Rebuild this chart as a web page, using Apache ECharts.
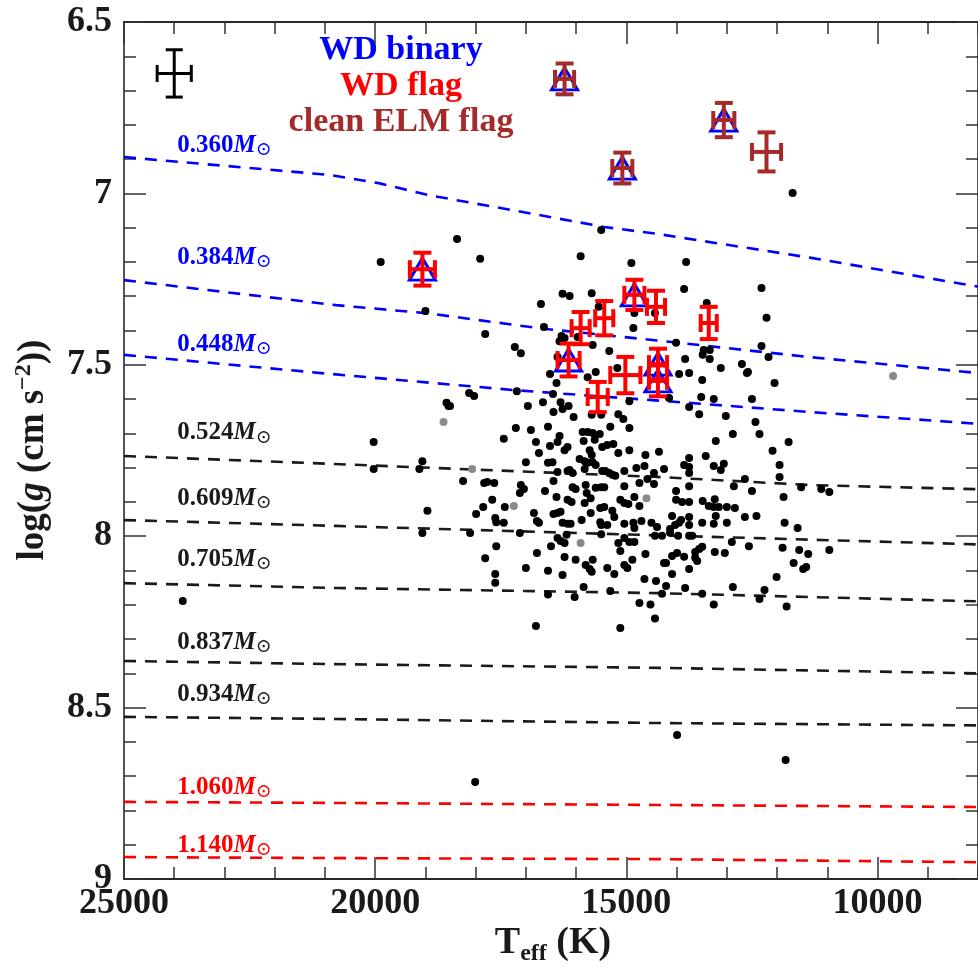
<!DOCTYPE html>
<html>
<head>
<meta charset="utf-8">
<script src="https://cdn.jsdelivr.net/npm/echarts@6/dist/echarts.min.js"></script>
<style>
  html, body { margin: 0; padding: 0; background: #fff; }
  #chart { width: 978px; height: 967px; }
</style>
</head>
<body>
<div id="chart"></div>
<script>
// ---- Data: Teff (K), log g (cgs) ----

// cooling tracks of constant mass
const trackMasses = ['0.360', '0.384', '0.448', '0.524', '0.609', '0.705', '0.837', '0.934', '1.060', '1.140'];
const track0360 = [[25000, 6.894], [20920, 6.946], [19930, 6.970], [18940, 7.005], [16960, 7.057], [15440, 7.098], [14390, 7.118], [11320, 7.188], [8000, 7.272]];
const track0384 = [[25000, 7.253], [20780, 7.326], [18940, 7.350], [16700, 7.394], [14390, 7.429], [11320, 7.478], [8000, 7.524]];
const track0448 = [[25000, 7.471], [20860, 7.527], [17220, 7.574], [14490, 7.603], [11320, 7.638], [8000, 7.672]];
const track0524 = [[25000, 7.766], [20860, 7.789], [14390, 7.827], [11320, 7.851], [8000, 7.863]];
const track0609 = [[25000, 7.953], [20780, 7.970], [14490, 7.997], [8000, 8.024]];
const track0705 = [[25000, 8.137], [20780, 8.151], [14390, 8.166], [8000, 8.190]];
const track0837 = [[25000, 8.364], [20920, 8.373], [14390, 8.384], [8000, 8.400]];
const track0934 = [[25000, 8.527], [20920, 8.533], [14390, 8.545], [8000, 8.552]];
const track1060 = [[25000, 8.775], [20920, 8.778], [14390, 8.784], [8000, 8.790]];
const track1140 = [[25000, 8.936], [20920, 8.939], [14390, 8.942], [8000, 8.951]];
// where each track's mass annotation sits (Teff, log g)
const massLabelTeff = 23950;
const massLabelLogg = [6.859, 7.188, 7.442, 7.699, 7.889, 8.069, 8.309, 8.463, 8.732, 8.901];

// spectroscopic sample
const starsBlack = [
  [23830, 8.189], [19890, 7.200], [18370, 7.133], [17910, 7.191], [15910, 7.183], [14900, 7.203], [15500, 7.107],
  [13810, 7.200], [19000, 7.343], [11690, 6.999], [13850, 7.279], [12310, 7.276], [13400, 7.320], [12210, 7.363],
  [16270, 7.293], [16130, 7.299], [15690, 7.291], [16700, 7.323], [15550, 7.331], [14840, 7.349], [14430, 7.349],
  [14860, 7.393], [17810, 7.410], [16640, 7.390], [16290, 7.416], [16230, 7.422], [16330, 7.431], [15970, 7.419],
  [15670, 7.442], [15340, 7.460], [17220, 7.448], [17100, 7.466], [14010, 7.436], [13460, 7.457], [13340, 7.457],
  [13480, 7.471], [12310, 7.445], [12170, 7.477], [13830, 7.483], [13340, 7.483], [16370, 7.477], [13120, 7.509],
  [12700, 7.498], [12580, 7.521], [15180, 7.509],
  [20030, 7.725], [20030, 7.804], [19060, 7.781], [19120, 7.804], [18960, 7.926], [19060, 7.991], [18540, 7.620],
  [18580, 7.611],
  [16560, 8.170], [14520, 8.199], [14430, 8.240], [13260, 8.199], [11810, 8.205], [13990, 8.580], [11830, 8.653],
  [18010, 8.717], [10960, 7.871], [10960, 8.040],
  [13950, 7.527], [13750, 7.524], [13490, 7.544], [12600, 7.524], [12050, 7.553], [14150, 7.597], [13510, 7.594],
  [13260, 7.600], [12500, 7.600], [13750, 7.623], [13550, 7.644], [13020, 7.649], [12430, 7.667], [14940, 7.684],
  [12880, 7.702], [12350, 7.702], [13220, 7.722], [11770, 7.725], [14940, 7.749], [14620, 7.763], [14350, 7.754],
  [13750, 7.772], [13420, 7.766], [12090, 7.751], [14800, 7.801], [14640, 7.795], [14250, 7.804], [13850, 7.792],
  [13750, 7.798], [13260, 7.795], [13060, 7.789], [13120, 7.807], [11950, 7.792], [14450, 7.816], [14580, 7.833],
  [13750, 7.816], [12640, 7.833], [11950, 7.827], [14740, 7.845], [14450, 7.848], [13750, 7.854], [12860, 7.854],
  [12500, 7.868], [11520, 7.857], [11120, 7.862], [14010, 7.868], [14840, 7.886], [14010, 7.894], [13890, 7.900],
  [13750, 7.900], [13480, 7.897], [13240, 7.892], [13360, 7.912], [13260, 7.915], [13160, 7.915], [13000, 7.915],
  [12840, 7.918], [11870, 7.886], [14960, 7.906], [14740, 7.912], [14090, 7.941], [13750, 7.944], [13220, 7.941],
  [12640, 7.944], [12410, 7.941], [14700, 7.956], [14500, 7.961], [14390, 7.973], [14030, 7.967], [13950, 7.961],
  [13910, 7.953], [14130, 7.979], [13750, 7.967], [13490, 7.961], [13260, 7.964], [13000, 7.961], [11850, 7.961],
  [11590, 7.976], [14860, 7.961], [14840, 7.976], [14840, 8.017], [14940, 8.017], [14430, 7.999], [14290, 7.999],
  [14130, 7.990], [13970, 7.999], [13750, 7.999], [13690, 7.999], [12900, 8.017], [12560, 8.029], [11890, 8.034],
  [11560, 8.040], [11380, 8.052], [14620, 8.052], [14880, 8.069], [14090, 8.058], [13990, 8.049], [13630, 8.046],
  [13550, 8.037], [13490, 8.031], [13240, 8.046], [13040, 8.049], [14250, 8.078], [14210, 8.078], [13850, 8.060],
  [13630, 8.063], [13590, 8.072], [11670, 8.078], [11480, 8.096], [11420, 8.090], [13750, 8.096], [14090, 8.110],
  [14640, 8.125], [14410, 8.131], [14210, 8.145], [12010, 8.119], [13830, 8.151], [12880, 8.148], [12250, 8.157],
  [14290, 8.168], [13490, 8.168], [12350, 8.183], [14740, 8.195],
  [16520, 7.527], [16390, 7.553], [15770, 7.536], [15610, 7.521], [18130, 7.582], [18030, 7.591], [18510, 7.620],
  [17180, 7.577], [16960, 7.620], [16660, 7.609], [16460, 7.585], [16310, 7.609], [16150, 7.620], [16450, 7.638],
  [16270, 7.629], [16050, 7.652], [15690, 7.646], [15500, 7.646], [15160, 7.644], [15060, 7.658], [14940, 7.606],
  [17200, 7.684], [16900, 7.690], [16560, 7.681], [17440, 7.716], [16800, 7.725], [16330, 7.708], [16370, 7.725],
  [16520, 7.737], [16230, 7.749], [16170, 7.740], [16740, 7.757], [15870, 7.696], [15770, 7.696], [15670, 7.699],
  [15530, 7.702], [15850, 7.722], [15630, 7.719], [15480, 7.740], [15380, 7.734], [15320, 7.681], [15260, 7.731],
  [15160, 7.757], [15730, 7.749], [15690, 7.763], [17000, 7.784], [16560, 7.786], [16470, 7.784], [15930, 7.775],
  [15830, 7.781], [15770, 7.786], [15670, 7.784], [15610, 7.792], [16130, 7.807], [16170, 7.810], [16070, 7.816],
  [16370, 7.813], [15830, 7.804], [15480, 7.810], [15420, 7.810], [15340, 7.816], [15280, 7.821], [15220, 7.824],
  [15040, 7.810], [16450, 7.839], [18250, 7.839], [17830, 7.845], [17770, 7.842], [17630, 7.845], [17100, 7.851],
  [17040, 7.862], [16070, 7.857], [16010, 7.862], [15810, 7.851], [15610, 7.859], [15500, 7.857], [15440, 7.857],
  [15040, 7.854], [17120, 7.874], [16620, 7.868], [16390, 7.886], [15790, 7.874], [15710, 7.889], [17670, 7.894],
  [16170, 7.894], [16090, 7.900], [15830, 7.903], [15120, 7.894], [15040, 7.903], [17850, 7.915], [17420, 7.915],
  [17990, 7.935], [16840, 7.932], [16450, 7.935], [16370, 7.932], [16310, 7.929], [15710, 7.932], [15520, 7.918],
  [15440, 7.915], [15280, 7.926], [17610, 7.947], [17590, 7.959], [17440, 7.961], [16780, 7.956], [16740, 7.961],
  [16270, 7.961], [16170, 7.964], [16110, 7.964], [15890, 7.953], [15520, 7.959], [15500, 7.967], [15380, 7.967],
  [15240, 7.944], [15040, 7.964], [18110, 7.991], [17120, 7.991], [16190, 7.996], [15500, 7.994], [15040, 8.005],
  [16370, 8.005], [16310, 8.014], [16230, 8.020], [17590, 8.029], [16500, 8.029], [15160, 8.020], [16780, 8.049],
  [15120, 8.043], [17810, 8.064], [16230, 8.061], [16010, 8.069], [15670, 8.069], [15810, 8.084], [15730, 8.096],
  [15690, 8.104], [15040, 8.084], [14980, 8.093], [17000, 8.093], [16560, 8.101], [16270, 8.113], [15380, 8.093],
  [15240, 8.110], [17610, 8.110], [17610, 8.136], [15850, 8.148], [15320, 8.160], [16030, 8.177], [16800, 8.262],
  [15120, 8.268]
];
const starsGray = [[18640, 7.667], [18070, 7.804], [17240, 7.912], [15910, 8.020], [14600, 7.889], [9690, 7.533]];

// flagged objects: [Teff, log g, sigma Teff, sigma log g]
const elmFlag = [[16230, 6.666, 190, 0.045], [15080, 6.926, 200, 0.045], [13060, 6.786, 210, 0.050], [12210, 6.879, 290, 0.057]];
const wdFlag = [
  [19060, 7.221, 250, 0.048], [14840, 7.296, 200, 0.044], [14410, 7.331, 180, 0.047], [13360, 7.378, 160, 0.047],
  [15440, 7.364, 180, 0.050], [15910, 7.393, 180, 0.047], [16150, 7.486, 220, 0.048], [15020, 7.530, 300, 0.053],
  [15570, 7.594, 200, 0.044], [14370, 7.498, 180, 0.045], [14370, 7.547, 180, 0.045]
];
const wdBinary = [[16230, 6.666], [15080, 6.926], [13060, 6.786], [19060, 7.221], [14840, 7.296], [16150, 7.486], [14370, 7.498], [14370, 7.547]];
// typical uncertainty
const typicalError = [[24000, 6.65, 340, 0.069]];

// axis ticks
const teffMajorTicks = [10000, 15000, 20000, 25000];

// ---- Styling ----
const SERIF = '"Liberation Serif", "DejaVu Serif", "Times New Roman", serif';
const BLUE = '#0000ff', RED = '#ff0000', BROWN = '#a52a2a', INK = '#1a1a1a';
const trackColors = [BLUE, BLUE, BLUE, INK, INK, INK, INK, INK, RED, RED];
const trackData = [track0360, track0384, track0448, track0524, track0609, track0705, track0837, track0934, track1060, track1140];
const tickLine = { color: '#333', width: 1.5 };
const tickFont = { fontFamily: SERIF, fontWeight: 'bold', fontSize: 36, color: INK };

function teffAxis(position, len, custom, showLabels) {
  const tick = { show: true, inside: true, length: len, lineStyle: tickLine };
  if (custom) tick.customValues = custom;
  const label = showLabels
    ? Object.assign({ show: true, margin: 7, customValues: custom, formatter: v => String(v) }, tickFont)
    : { show: false };
  return {
    type: 'value', position: position, min: 8000, max: 25000, inverse: true, interval: 1000,
    axisLine: { show: true, onZero: false, lineStyle: { color: INK, width: 1.5 } },
    axisTick: tick, axisLabel: label, splitLine: { show: false }
  };
}
function loggAxis(position, showLabels) {
  return {
    type: 'value', position: position, min: 6.5, max: 9, inverse: true, interval: 0.5,
    axisLine: { show: true, onZero: false, lineStyle: { color: INK, width: 1.5 } },
    axisTick: { show: true, inside: true, length: 22, lineStyle: tickLine },
    minorTick: { show: true, splitNumber: 5, length: 12, lineStyle: tickLine },
    axisLabel: showLabels ? Object.assign({ show: true, margin: 12 }, tickFont) : { show: false },
    splitLine: { show: false }, minorSplitLine: { show: false }
  };
}

// cross-shaped error bar with end caps
function errorCross(color, width, cap) {
  return function (params, api) {
    const c = api.coord([api.value(0), api.value(1)]);
    const s = api.size([api.value(2), api.value(3)]);
    const dx = s[0], dy = s[1];
    const style = { stroke: color, lineWidth: width, fill: null };
    const seg = (x1, y1, x2, y2) => ({ type: 'line', shape: { x1, y1, x2, y2 }, style: style });
    return {
      type: 'group',
      children: [
        seg(c[0] - dx, c[1], c[0] + dx, c[1]),
        seg(c[0], c[1] - dy, c[0], c[1] + dy),
        seg(c[0] - cap, c[1] - dy, c[0] + cap, c[1] - dy),
        seg(c[0] - cap, c[1] + dy, c[0] + cap, c[1] + dy),
        seg(c[0] - dx, c[1] - cap, c[0] - dx, c[1] + cap),
        seg(c[0] + dx, c[1] - cap, c[0] + dx, c[1] + cap)
      ]
    };
  };
}

const series = [];
trackData.forEach((d, i) => {
  series.push({
    type: 'line', data: d, symbol: 'none', silent: true, z: 2,
    lineStyle: { color: trackColors[i], width: 2.6, type: [12, 9] }
  });
});
series.push({
  type: 'scatter', data: starsBlack, symbolSize: 8, silent: true, z: 3,
  itemStyle: { color: '#000', opacity: 1 }
});
series.push({
  type: 'scatter', data: starsGray, symbolSize: 8, silent: true, z: 3,
  itemStyle: { color: '#8a8a8a', opacity: 1 }
});
series.push({
  type: 'scatter', data: wdBinary, symbol: 'triangle', symbolSize: [26, 22], silent: true, z: 4,
  itemStyle: { color: 'rgba(255,255,255,0)', borderColor: BLUE, borderWidth: 3, opacity: 1 }
});
series.push({
  type: 'custom', data: elmFlag, encode: { x: 0, y: 1 }, renderItem: errorCross(BROWN, 4, 9), silent: true, z: 5
});
series.push({
  type: 'custom', data: wdFlag, encode: { x: 0, y: 1 }, renderItem: errorCross(RED, 4, 9), silent: true, z: 5
});
series.push({
  type: 'custom', data: typicalError, encode: { x: 0, y: 1 }, renderItem: errorCross('#000', 3, 8.5), silent: true, z: 5
});
// mass annotations next to the tracks
const massRich = (color) => ({
  n: { fontFamily: SERIF, fontWeight: 'bold', fontSize: 25, lineHeight: 28, color: color },
  m: { fontFamily: SERIF, fontWeight: 'bold', fontStyle: 'italic', fontSize: 25, lineHeight: 28, color: color },
  s: { fontFamily: SERIF, fontSize: 19, lineHeight: 16, verticalAlign: 'bottom', color: color }
});
series.push({
  type: 'scatter', symbolSize: 1, silent: true, z: 6,
  itemStyle: { color: 'rgba(0,0,0,0)', opacity: 1 },
  data: trackMasses.map((m, i) => ({
    value: [massLabelTeff, massLabelLogg[i]],
    label: { color: trackColors[i], rich: massRich(trackColors[i]) }
  })),
  label: {
    show: true, position: 'right', distance: 0, opacity: 1,
    formatter: p => '{n|' + trackMasses[p.dataIndex] + '}{m|M}{s|\u2299}',
    rich: massRich(INK)
  }
});

const chart = echarts.init(document.getElementById('chart'), null, { renderer: 'canvas' });
chart.setOption({
  animation: false,
  backgroundColor: '#fff',
  grid: { left: 124, top: 22, width: 858, height: 857, containLabel: false },
  xAxis: [
    teffAxis('bottom', 12, null, false),
    teffAxis('bottom', 22, teffMajorTicks, true),
    teffAxis('top', 12, null, false),
    teffAxis('top', 22, teffMajorTicks, false)
  ],
  yAxis: [loggAxis('left', true), loggAxis('right', false)],
  series: series,
  graphic: [
    {
      type: 'text', x: 401, y: 50, silent: true,
      style: { text: 'WD binary', fill: BLUE, font: 'bold 34px ' + SERIF, align: 'center', verticalAlign: 'middle', textAlign: 'center', textVerticalAlign: 'middle' }
    },
    {
      type: 'text', x: 401, y: 86, silent: true,
      style: { text: 'WD flag', fill: RED, font: 'bold 34px ' + SERIF, align: 'center', verticalAlign: 'middle', textAlign: 'center', textVerticalAlign: 'middle' }
    },
    {
      type: 'text', x: 401, y: 122, silent: true,
      style: { text: 'clean ELM flag', fill: BROWN, font: 'bold 34px ' + SERIF, align: 'center', verticalAlign: 'middle', textAlign: 'center', textVerticalAlign: 'middle' }
    },
    {
      type: 'text', x: 553, y: 943, silent: true,
      style: {
        text: '{t|T}{e|eff}{t| (K)}', fill: INK,
        align: 'center', verticalAlign: 'middle', textAlign: 'center', textVerticalAlign: 'middle',
        rich: {
          t: { fontFamily: SERIF, fontWeight: 'bold', fontSize: 38, lineHeight: 40, fill: INK },
          e: { fontFamily: SERIF, fontWeight: 'bold', fontSize: 24, lineHeight: 24, padding: [22, 0, 0, 0], fill: INK }
        }
      }
    },
    {
      type: 'text', x: 33, y: 450, rotation: Math.PI / 2, silent: true,
      style: {
        text: '{a|log(}{i|g}{a| (cm s}{p|\u22122}{a|))}', fill: INK,
        align: 'center', verticalAlign: 'middle', textAlign: 'center', textVerticalAlign: 'middle',
        rich: {
          a: { fontFamily: SERIF, fontWeight: 'bold', fontSize: 37, lineHeight: 40, fill: INK },
          i: { fontFamily: SERIF, fontWeight: 'bold', fontStyle: 'italic', fontSize: 37, lineHeight: 40, fill: INK },
          p: { fontFamily: SERIF, fontWeight: 'bold', fontSize: 24, lineHeight: 24, padding: [0, 0, 18, 0], fill: INK }
        }
      }
    }
  ]
});
</script>
</body>
</html>
